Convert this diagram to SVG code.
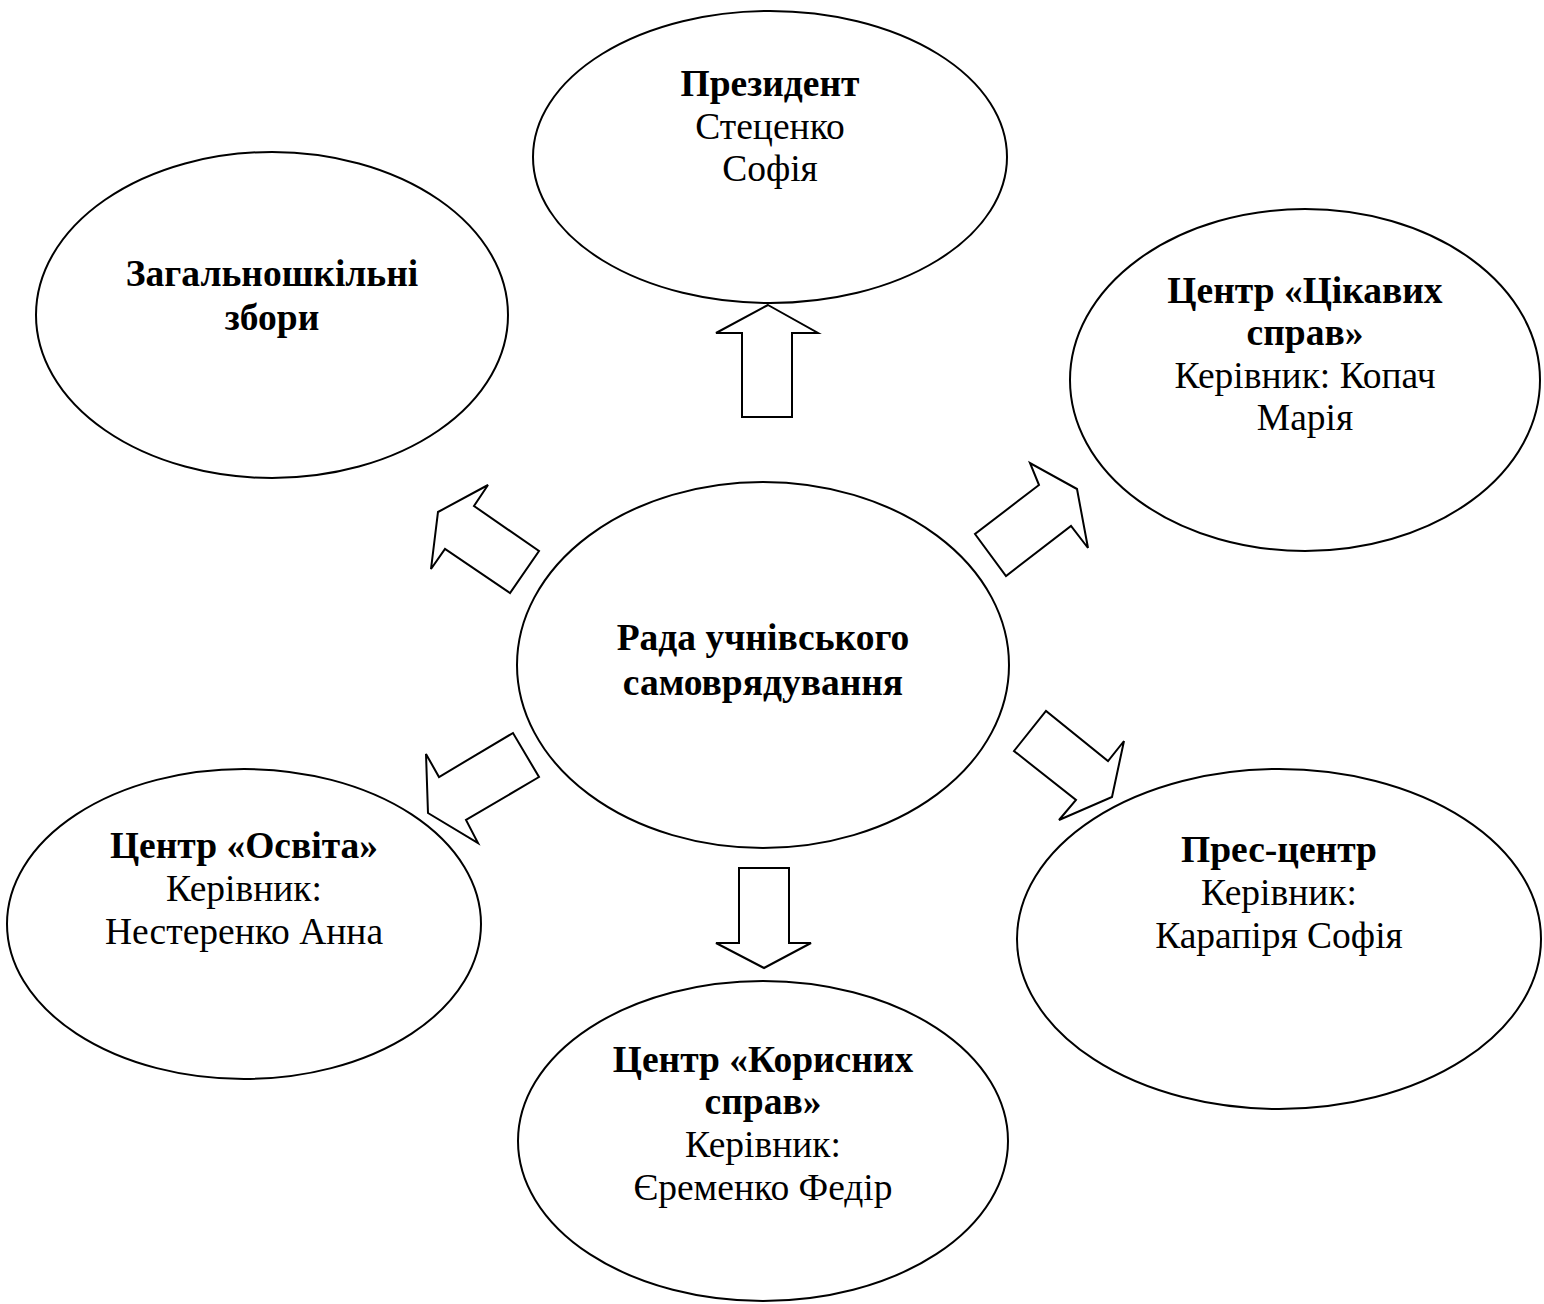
<svg xmlns="http://www.w3.org/2000/svg" width="1544" height="1304" viewBox="0 0 1544 1304">
<style>
.n{fill:#fff;stroke:#000;stroke-width:2}
.a{fill:#fff;stroke:#000;stroke-width:2;stroke-linejoin:miter}
text{font-family:"Liberation Serif","Times New Roman",serif;font-size:37.5px;fill:#000;text-anchor:middle}
.b{font-weight:bold}
</style>
<rect x="0" y="0" width="1544" height="1304" fill="#fff"/>
<g id="president">
<ellipse class="n" cx="770" cy="157" rx="237" ry="146"/>
<text x="770" y="96" class="b">Президент</text>
<text x="770" y="139">Стеценко</text>
<text x="770" y="181">Софія</text>
</g>
<g id="zbory">
<ellipse class="n" cx="272" cy="315" rx="236" ry="163"/>
<text x="272" y="286" class="b">Загальношкільні</text>
<text x="272" y="330" class="b">збори</text>
</g>
<g id="tsikavykh">
<ellipse class="n" cx="1305" cy="380" rx="235" ry="171"/>
<text x="1305" y="303" class="b">Центр «Цікавих</text>
<text x="1305" y="345" class="b">справ»</text>
<text x="1305" y="388">Керівник: Копач</text>
<text x="1305" y="430">Марія</text>
</g>
<g id="rada">
<ellipse class="n" cx="763" cy="665" rx="246" ry="183"/>
<text x="763" y="650" class="b">Рада учнівського</text>
<text x="763" y="695" class="b">самоврядування</text>
</g>
<g id="osvita">
<ellipse class="n" cx="244" cy="924" rx="237" ry="155"/>
<text x="244" y="858" class="b">Центр «Освіта»</text>
<text x="244" y="901">Керівник:</text>
<text x="244" y="944">Нестеренко Анна</text>
</g>
<g id="prestsentr">
<ellipse class="n" cx="1279" cy="939" rx="262" ry="170"/>
<text x="1279" y="862" class="b">Прес-центр</text>
<text x="1279" y="905">Керівник:</text>
<text x="1279" y="948">Карапіря Софія</text>
</g>
<g id="korysnykh">
<ellipse class="n" cx="763" cy="1141" rx="245" ry="160"/>
<text x="763" y="1072" class="b">Центр «Корисних</text>
<text x="763" y="1114" class="b">справ»</text>
<text x="763" y="1157">Керівник:</text>
<text x="763" y="1200">Єременко Федір</text>
</g>
<g id="connectors">
<polygon class="a" points="768,305 818,333 792,333 792,417 742,417 742,333 716,333"/>
<polygon class="a" points="764,968 811,943 789,943 789,868 739,868 739,943 716,943"/>
<polygon class="a" points="438,512 488,485 474,506 539,551 510,593 445,549 431,569"/>
<polygon class="a" points="1077,489 1030,463 1039,485 975,534 1006,576 1071,526 1088,548"/>
<polygon class="a" points="426,754 439,777 513,733 539,777 466,820 478,843 428,813"/>
<polygon class="a" points="1112,797 1124,741 1108,761 1046,711 1014,751 1076,800 1059,820"/>
</g>
</svg>
